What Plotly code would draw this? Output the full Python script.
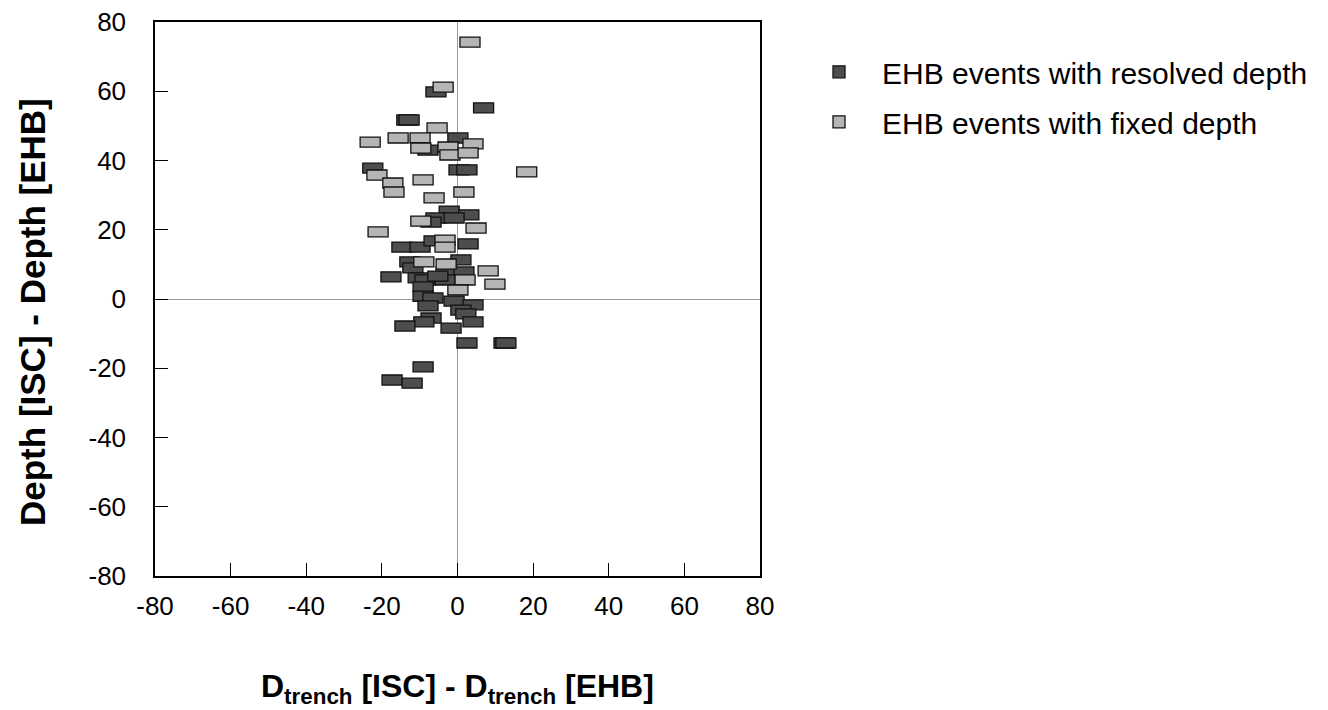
import plotly.graph_objects as go

# EHB events with resolved depth (dark)
resolved_x = [-5.7, 6.9, -13.4, -12.8, 0.1, -7.8, -22.4, 0.4, 2.5, -2.2, 3.0, -5.7, -0.9, -7.0,
              -14.7, -9.9, -6.2, 2.8, -12.6, 0.9, -11.8, -3.0, 1.7, -17.6, -10.4, -8.6, -3.3, -5.2,
              -9.1, -9.1, -6.5, -0.9, 4.1, -7.8, 0.9, 2.2, -7.0, -8.9, 4.1, -13.9, -1.7, 2.5,
              12.3, 12.8, -9.1, -17.3, -12.0]
resolved_y = [59.8, 55.2, 51.7, 51.7, 46.5, 43.0, 37.8, 37.3, 37.3, 25.4, 24.3, 23.4, 23.4, 22.2,
              15.0, 15.0, 16.8, 15.9, 10.7, 11.3, 9.0, 7.8, 7.8, 6.4, 6.1, 5.5, 5.5, 6.6,
              3.5, 0.8, 0.3, -0.6, -1.7, -2.0, -3.2, -4.3, -5.5, -6.6, -6.6, -7.8, -8.4, -12.7,
              -12.7, -12.7, -19.6, -23.4, -24.3]

# EHB events with fixed depth (light)
fixed_x = [3.3, -3.8, -5.4, -23.1, -15.7, -9.9, -9.7, -2.5, 4.1, -2.0, 2.8, 18.3, -21.3, -17.1,
           -16.8, -9.1, 1.7, -6.2, -9.7, 4.9, -21.0, -3.3, -3.3, -8.9, -3.0, 8.1, 2.0, 9.9, 0.1]
fixed_y = [74.2, 61.2, 49.4, 45.3, 46.5, 46.5, 43.6, 43.9, 44.8, 41.6, 42.2, 36.7, 35.8, 33.5,
           30.9, 34.4, 30.9, 29.2, 22.5, 20.5, 19.4, 17.0, 15.0, 10.7, 10.1, 8.1, 5.5, 4.3, 2.6]

series_names = ["EHB events with resolved depth", "EHB events with fixed depth"]
tick_vals = [-80, -60, -40, -20, 0, 20, 40, 60, 80]
x_title = "<b>D<sub>trench</sub> [ISC] - D<sub>trench</sub> [EHB]</b>"
y_title = "<b>Depth [ISC] - Depth [EHB]</b>"

DARK = "#4d4d4d"
LIGHT = "#b5b5b5"
EDGE = "#111111"
HALF_W = 2.65   # rectangle half-width in x data units
HALF_H = 1.45   # rectangle half-height in y data units

fig = go.Figure()

# invisible point traces at data positions
for xs, ys, nm in [(resolved_x, resolved_y, series_names[0]), (fixed_x, fixed_y, series_names[1])]:
    fig.add_trace(go.Scatter(x=xs, y=ys, mode="markers", marker=dict(opacity=0),
                             name=nm, showlegend=False, hoverinfo="x+y"))

shapes = []
for xs, ys, fill, nm in [(resolved_x, resolved_y, DARK, series_names[0]),
                         (fixed_x, fixed_y, LIGHT, series_names[1])]:
    for i, (x, y) in enumerate(zip(xs, ys)):
        shapes.append(dict(type="rect", xref="x", yref="y",
                           x0=x - HALF_W, x1=x + HALF_W, y0=y - HALF_H, y1=y + HALF_H,
                           fillcolor=fill, line=dict(color=EDGE, width=1.3), layer="above",
                           showlegend=(i == 0), name=nm, legendgroup=nm))

font_family = "Liberation Sans, Arial, Helvetica, sans-serif"

axis_common = dict(
    showgrid=False, zeroline=True, zerolinecolor="#9a9a9a", zerolinewidth=1,
    showline=True, linecolor="black", linewidth=1.5, mirror=True,
    ticks="inside", ticklen=13, tickwidth=1.2, tickcolor="black",
    tickmode="array", tickvals=tick_vals, ticktext=[str(v) for v in tick_vals],
    range=[-80, 80], tickfont=dict(size=26, color="black", family=font_family),
    automargin=False, ticklabeloverflow="allow",
)

fig.update_layout(
    width=1328, height=710,
    margin=dict(l=147, r=576, t=14, b=142),
    plot_bgcolor="white", paper_bgcolor="white",
    font=dict(family=font_family, color="black"),
    shapes=shapes,
    showlegend=True,
    legend=dict(x=1.0595, y=0.957, xanchor="left", yanchor="top", itemwidth=76,
                font=dict(size=30, color="black", family=font_family),
                bgcolor="rgba(0,0,0,0)", tracegroupgap=8),
    xaxis=dict(**axis_common, ticklabelstandoff=6),
    yaxis=dict(**axis_common, ticklabelstandoff=22),
    annotations=[
        dict(text=x_title, xref="paper", yref="paper", x=0.5, y=0,
             xanchor="center", yanchor="middle", yshift=-112, showarrow=False,
             font=dict(size=32, color="black", family=font_family)),
        dict(text=y_title, xref="paper", yref="paper", x=-0.2033, y=0.5, textangle=-90,
             xanchor="center", yanchor="middle", yshift=-13, showarrow=False,
             font=dict(size=35, color="black", family=font_family)),
    ],
)

fig.write_html("out.html")
